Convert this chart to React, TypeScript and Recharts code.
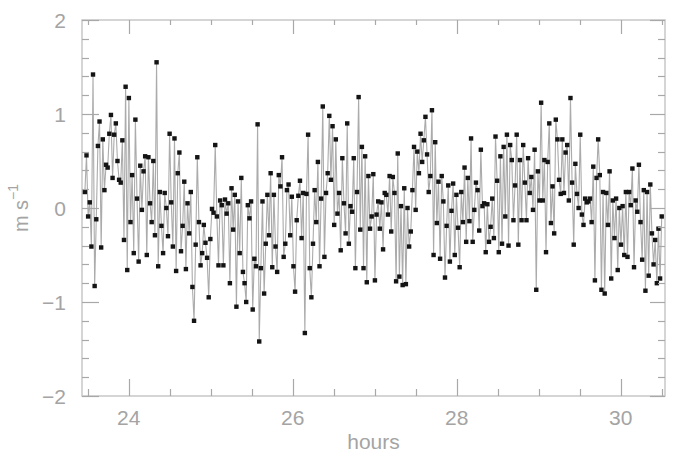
import React from 'react';
import { LineChart, Line, XAxis, YAxis, ReferenceArea } from 'recharts';

// sampling span of the record (hours)
const FIRST_HOUR = 23.465;
const LAST_HOUR = 30.5;
const X_DOMAIN: [number, number] = [23.43, 30.54];
const Y_DOMAIN: [number, number] = [-2, 2];

// velocity (m s^-1), left to right
const velocityA = [
  0.17, 0.56, -0.09, 0.06, -0.41, 1.42, -0.83, -0.12, 0.66, 0.92,
  -0.42, 0.73, 0.19, 0.46, 0.43, 0.79, 0.99, 0.32, 0.78, 0.9,
  0.5, 0.3, 0.27, 0.72, -0.34, 1.29, -0.66, 1.17, -0.15, 0.35,
  -0.48, 0.94, 0.1, -0.57, 0.45, -0.02, 0.39, 0.55, -0.5, 0.54,
  0.05, -0.15, 0.5, -0.29, 1.55, -0.62, 0.17, -0.19, -0.48, 0.16,
  0.0, -0.3, 0.79, 0.06, -0.41, 0.74, -0.67, 0.37, 0.59, -0.46,
  -0.19, 0.28, -0.65, 0.05, -0.27, 0.17, -0.84, -1.2, -0.39, 0.54,
  -0.15, -0.61, -0.48, -0.18, -0.37, -0.53, -0.95, -0.33, -0.01, -0.05,
  0.67, -0.09, -0.61, 0.08,
];
const velocityB = [
  0.03, -0.61, 0.09, -0.06, 0.05, -0.8, 0.21, -0.23, 0.14, -1.05,
  0.07, -0.48, 0.32, -0.68, -0.8, -1.0, 0.03, -0.11, 0.07, -1.08,
  -0.54, -0.62, 0.89, -1.42, -0.64, 0.07, -0.91, -0.38, 0.14, -0.29,
  0.37, -0.63, 0.14, -0.41, -0.68, 0.35, 0.23, 0.54, -0.52, -0.38,
  0.19, 0.25, -0.29, 0.12, -0.62, -0.89, -0.13, 0.13, 0.29, -0.32,
  0.16, -1.33, 0.15, 0.78, -0.64, -0.95, -0.38, 0.19, -0.15, 0.49,
  -0.62, 0.1, 1.08, -0.52, 0.16, 0.37, 0.98, 0.3, 0.87, -0.18,
  0.73, -0.06, 0.16, -0.45, 0.53, 0.05, -0.27, 0.9, -0.38, 0.02,
  -0.04, 0.53, -0.64, 0.17, 1.18, -0.23, 0.65, -0.64, 0.55, -0.79,
  0.34, -0.22, -0.09,
];
const velocityC = [
  0.36, -0.77, -0.07, 0.07, -0.22, 0.06, -0.44, 0.16, 0.14, -0.07,
  0.34, -0.25, 0.33, 0.16, -0.78, 0.58, -0.73, 0.02, -0.82, 0.21,
  -0.81, 0.0, -0.41, -0.25, 0.19, 0.65, -0.02, 0.6, 0.37, 0.79,
  0.49, 0.72, 0.97, 0.57, 0.17, 0.34, 1.04, -0.5, 0.7, -0.16,
  0.28, -0.54, 0.34, 0.07, -0.74, -0.19, 0.24, -0.57, -0.03, 0.26,
  -0.5, 0.14, -0.21, -0.63, 0.17, -0.15, 0.43, -0.36, 0.32, -0.14,
  0.74, -0.36, -0.02, 0.27, 0.19, -0.24, 0.62, 0.02, 0.05, -0.47,
  0.04, -0.36, -0.2, 0.1, -0.32, 0.76, 0.29, -0.47, 0.55, -0.38,
  0.65, -0.09, 0.78, -0.4, 0.67, 0.51, -0.13, 0.24,
];
const velocityD = [
  0.78, -0.39, 0.51, -0.13, 0.67, 0.27, -0.13, 0.53, 0.16, 0.33,
  -0.02, 0.62, -0.87, 0.39, 0.08, 1.12, 0.08, 0.51, -0.47, 0.49,
  0.9, -0.16, 0.23, -0.27, 0.94, 0.73, 0.3, 0.15, 0.73, 0.16,
  0.59, 0.67, 0.08, 1.17, 0.27, -0.39, 0.47, 0.15, 0.0, 0.78,
  -0.07, -0.18, 0.1, 0.06, 0.07, 0.1, -0.15, 0.44, -0.77, 0.32,
  0.73, 0.35, -0.87, 0.17, -0.91, 0.16, -0.18, 0.39, -0.75, 0.08,
  -0.32, 0.1, -0.66, 0.0, -0.39, 0.02, -0.5, 0.17, -0.52, 0.17,
  0.03, 0.42, -0.63, 0.08, -0.04, 0.46, -0.15, -0.55, 0.19, -0.88,
  0.17, -0.72, 0.25, -0.27, -0.6, -0.34, -0.8, -0.22, -0.75, -0.09,
];

const xTicks = [23.5, 24, 24.5, 25, 25.5, 26, 26.5, 27, 27.5, 28, 28.5, 29, 29.5, 30, 30.5];
const xTickLabels = [24, 26, 28, 30];
const yTicks = [-2, -1.8, -1.6, -1.4, -1.2, -1, -0.8, -0.6, -0.4, -0.2, 0, 0.2, 0.4, 0.6, 0.8, 1, 1.2, 1.4, 1.6, 1.8, 2];
const yTickLabels = [-2, -1, 0, 1, 2];

const velocity = [...velocityA, ...velocityB, ...velocityC, ...velocityD];
const stepHours = (LAST_HOUR - FIRST_HOUR) / (velocity.length - 1);
const data = velocity.map((v, i) => ({ hours: FIRST_HOUR + i * stepHours, v }));

const FRAME = '#c8c8c8';
const TICK = '#a8a8a8';
const TEXT = '#a4a4a4';
const FONT = '"Liberation Sans", Arial, sans-serif';
const MAJOR = 17;
const MINOR = 7;

const fmt = (v: number) => (v < 0 ? '\u2212' + Math.abs(v) : String(v));
const near = (list: number[], v: number) => list.some((t) => Math.abs(t - v) < 1e-6);

const BottomTick = (props: any) => {
  const x = Number(props.x);
  const y = Number(props.y);
  const val = props.payload.value;
  const major = near(xTickLabels, val);
  const px = Math.round(x) + 0.5;
  return (
    <g>
      <path d={`M${px},${y}V${y - (major ? MAJOR : MINOR)}`} stroke={TICK} strokeWidth={1.2} fill="none" />
      {major && (
        <text x={x} y={y + 29} textAnchor="middle" fill={TEXT} fontSize={21} fontFamily={FONT}>
          {fmt(val)}
        </text>
      )}
    </g>
  );
};

const TopTick = (props: any) => {
  const x = Number(props.x);
  const y = Number(props.y);
  const major = near(xTickLabels, props.payload.value);
  const px = Math.round(x) + 0.5;
  return <path d={`M${px},${y}V${y + (major ? MAJOR - 3 : MINOR - 2)}`} stroke={TICK} strokeWidth={1.2} fill="none" />;
};

const LeftTick = (props: any) => {
  const x = Number(props.x);
  const y = Number(props.y);
  const val = props.payload.value;
  const major = near(yTickLabels, val);
  const py = Math.round(y) + 0.5;
  return (
    <g>
      <path d={`M${x},${py}H${x + (major ? MAJOR : MINOR)}`} stroke={TICK} strokeWidth={1.2} fill="none" />
      {major && (
        <text x={x - 16} y={y + 7.5} textAnchor="end" fill={TEXT} fontSize={21} fontFamily={FONT}>
          {fmt(val)}
        </text>
      )}
    </g>
  );
};

const RightTick = (props: any) => {
  const x = Number(props.x);
  const y = Number(props.y);
  const major = near(yTickLabels, props.payload.value);
  const py = Math.round(y) + 0.5;
  return <path d={`M${x},${py}H${x - (major ? MAJOR - 2 : MINOR)}`} stroke={TICK} strokeWidth={1.2} fill="none" />;
};

const SquareDot = (props: any) => {
  const { cx, cy, index } = props;
  if (cx == null || cy == null) return <g key={`d${index}`} />;
  return <rect key={`d${index}`} x={cx - 2.2} y={cy - 2.2} width={4.4} height={4.4} fill="#141414" />;
};

const XLabel = (props: any) => {
  const vb = props.viewBox || { x: 82, y: 396, width: 583, height: 59 };
  return (
    <text x={vb.x + vb.width / 2} y={vb.y + 53} textAnchor="middle" fill={TEXT} fontSize={21} fontFamily={FONT}>
      hours
    </text>
  );
};

const YLabel = (props: any) => {
  const vb = props.viewBox || { x: 0, y: 20, width: 82, height: 376 };
  const cx = vb.x + 21;
  const cy = vb.y + vb.height / 2;
  return (
    <text
      x={cx}
      y={cy}
      transform={`rotate(-90, ${cx}, ${cy})`}
      textAnchor="middle"
      dominantBaseline="central"
      fill={TEXT}
      fontSize={20}
      fontFamily={FONT}
    >
      m s
      <tspan dy={-8} fontSize={14}>
        {'\u2212'}1
      </tspan>
    </text>
  );
};

export default function App() {
  return (
    <div style={{ position: 'absolute', left: 0, top: 0, width: 673, height: 455, background: '#fff' }}>
      <LineChart width={673} height={455} data={data} margin={{ top: 19, right: 7, left: 0, bottom: 0 }}>
        <XAxis
          xAxisId="bottom"
          dataKey="hours"
          type="number"
          domain={X_DOMAIN}
          allowDataOverflow
          ticks={xTicks}
          interval={0}
          height={59}
          tickSize={0}
          tickMargin={0}
          tickLine={false}
          axisLine={false}
          tick={<BottomTick />}
          label={{ content: (p: any) => <XLabel {...p} /> }}
        />
        <XAxis
          xAxisId="top"
          orientation="top"
          dataKey="hours"
          type="number"
          domain={X_DOMAIN}
          allowDataOverflow
          ticks={xTicks}
          interval={0}
          height={1}
          tickSize={0}
          tickMargin={0}
          tickLine={false}
          axisLine={false}
          tick={<TopTick />}
        />
        <YAxis
          yAxisId="left"
          type="number"
          domain={Y_DOMAIN}
          allowDataOverflow
          ticks={yTicks}
          interval={0}
          width={82}
          tickSize={0}
          tickMargin={0}
          tickLine={false}
          axisLine={false}
          tick={<LeftTick />}
          label={{ content: (p: any) => <YLabel {...p} /> }}
        />
        <YAxis
          yAxisId="right"
          orientation="right"
          type="number"
          domain={Y_DOMAIN}
          allowDataOverflow
          ticks={yTicks}
          interval={0}
          width={1}
          tickSize={0}
          tickMargin={0}
          tickLine={false}
          axisLine={false}
          tick={<RightTick />}
        />
        <ReferenceArea
          xAxisId="bottom"
          yAxisId="left"
          x1={X_DOMAIN[0]}
          x2={X_DOMAIN[1]}
          y1={Y_DOMAIN[0]}
          y2={Y_DOMAIN[1]}
          fill="none"
          fillOpacity={0}
          stroke={FRAME}
          strokeWidth={1.5}
          ifOverflow="visible"
        />
        <Line
          xAxisId="bottom"
          yAxisId="left"
          dataKey="v"
          type="linear"
          stroke="#ababab"
          strokeWidth={1.1}
          dot={(p: any) => <SquareDot {...p} />}
          activeDot={false}
          isAnimationActive={false}
        />
        <Line
          xAxisId="top"
          yAxisId="right"
          dataKey="v"
          type="linear"
          stroke="none"
          strokeWidth={0}
          dot={false}
          activeDot={false}
          isAnimationActive={false}
        />
      </LineChart>
    </div>
  );
}
